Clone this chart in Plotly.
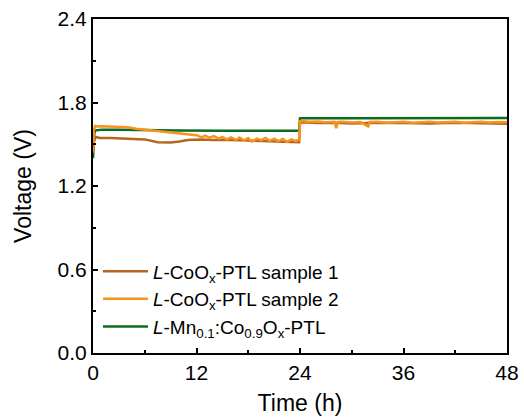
import plotly.graph_objects as go

# ---- data ----
t_mn = [0.0, 0.05, 0.15, 0.3, 1, 3, 6, 10, 15, 20, 23.9, 24.0, 24.1, 30, 36, 42, 48]
v_mn = [1.40, 1.50, 1.58, 1.60, 1.605, 1.605, 1.60, 1.598, 1.597, 1.597, 1.597, 1.686, 1.687, 1.687, 1.687, 1.688, 1.688]

t_s1 = [0.0, 0.1, 0.3, 0.8, 2, 4, 6, 7.5, 9, 10, 11, 12.5, 14, 16, 18, 20, 22, 23.9,
        24.0, 24.2, 26, 28, 30, 33, 36, 39, 42, 45, 48]
v_s1 = [1.45, 1.52, 1.552, 1.545, 1.545, 1.54, 1.535, 1.515, 1.512, 1.52, 1.53, 1.535, 1.53, 1.53, 1.525, 1.52, 1.515, 1.515,
        1.652, 1.658, 1.652, 1.654, 1.65, 1.654, 1.652, 1.65, 1.654, 1.65, 1.648]

t_s2 = [0.0, 0.1, 0.25, 0.5, 1, 2, 3, 4, 5, 6, 7, 8, 9, 10, 11, 12, 12.6, 13, 13.5, 14, 14.6, 15, 15.5,
        16, 16.6, 17, 17.5, 18, 18.4, 19, 19.5, 20, 20.5, 21, 21.5, 22, 22.5, 23, 23.5, 23.9,
        24.0, 24.2, 25, 26, 27, 28, 28.2, 28.4, 29, 30, 31, 31.9, 32.1, 33, 34, 35, 36,
        37, 38, 39, 40, 41, 42, 43, 44, 45, 46, 47, 48]
v_s2 = [1.44, 1.60, 1.632, 1.628, 1.63, 1.628, 1.625, 1.622, 1.612, 1.605, 1.598, 1.59, 1.585, 1.578, 1.572, 1.565, 1.55, 1.562, 1.548, 1.558, 1.54, 1.552, 1.535,
        1.55, 1.532, 1.548, 1.528, 1.545, 1.518, 1.54, 1.53, 1.545, 1.525, 1.54, 1.522, 1.538, 1.518, 1.535, 1.522, 1.535,
        1.665, 1.668, 1.662, 1.664, 1.658, 1.662, 1.615, 1.66, 1.662, 1.656, 1.66, 1.628, 1.66, 1.662, 1.655, 1.66, 1.662,
        1.655, 1.66, 1.662, 1.656, 1.66, 1.662, 1.655, 1.66, 1.662, 1.656, 1.66, 1.658]

names = ["<i>L</i>-CoO<sub>x</sub>-PTL sample 1",
         "<i>L</i>-CoO<sub>x</sub>-PTL sample 2",
         "<i>L</i>-Mn<sub>0.1</sub>:Co<sub>0.9</sub>O<sub>x</sub>-PTL"]
colors = ["#b5651d", "#f7941d", "#0b6b1f"]

x_ticks = [0, 12, 24, 36, 48]
y_ticks = [0.0, 0.6, 1.2, 1.8, 2.4]

fig = go.Figure()
fig.add_trace(go.Scatter(x=t_mn, y=v_mn, mode="lines", name=names[2],
                         line=dict(color=colors[2], width=2.5), legendrank=3))
fig.add_trace(go.Scatter(x=t_s1, y=v_s1, mode="lines", name=names[0],
                         line=dict(color=colors[0], width=2.5), legendrank=1))
fig.add_trace(go.Scatter(x=t_s2, y=v_s2, mode="lines", name=names[1],
                         line=dict(color=colors[1], width=2.5), legendrank=2))

font_family = "Arial, Liberation Sans, sans-serif"
fig.update_layout(
    width=524, height=419,
    margin=dict(l=93, r=17, t=19, b=66),
    paper_bgcolor="white", plot_bgcolor="white",
    font=dict(family=font_family, color="black", size=20),
    showlegend=True,
    legend=dict(x=0.012, y=0.02, xanchor="left", yanchor="bottom",
                bgcolor="rgba(0,0,0,0)", font=dict(size=19),
                tracegroupgap=0, itemwidth=45),
    xaxis=dict(range=[0, 48], tickvals=x_ticks, ticktext=[str(v) for v in x_ticks],
               ticks="inside", ticklen=5, tickwidth=2, tickcolor="black",
               minor=dict(dtick=6, ticks="inside", ticklen=3, tickwidth=1.5, tickcolor="black"),
               showline=True, linewidth=2, linecolor="black", mirror=True,
               showgrid=False, zeroline=False, automargin=False,
               title=dict(text="Time (h)", font=dict(size=23), standoff=12),
               tickfont=dict(size=21)),
    yaxis=dict(range=[0, 2.4], tickvals=y_ticks, ticktext=[f"{v:.1f}" for v in y_ticks],
               ticks="inside", ticklen=5, tickwidth=2, tickcolor="black",
               minor=dict(dtick=0.3, ticks="inside", ticklen=3, tickwidth=1.5, tickcolor="black"),
               showline=True, linewidth=2, linecolor="black", mirror=True,
               showgrid=False, zeroline=False, automargin=False,
               title=dict(text="Voltage (V)", font=dict(size=23), standoff=20),
               tickfont=dict(size=21)),
)

fig.write_html("out.html")
